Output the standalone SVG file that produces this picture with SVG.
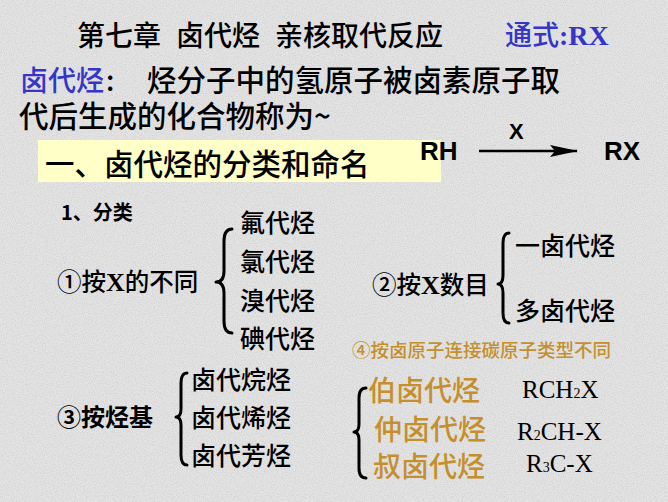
<svg xmlns="http://www.w3.org/2000/svg" width="668" height="502" viewBox="0 0 668 502">
<defs>
<style>
.cjk{font-family:"Noto Sans CJK SC","Liberation Sans",sans-serif;fill:#000;font-weight:500}
.b{font-weight:bold}
.blue{fill:#3535c8}
.gold{fill:#c48f2c}
.ser{font-family:"Liberation Serif","Noto Sans CJK SC",serif;font-weight:normal}
.sans{font-family:"Liberation Sans",sans-serif;font-weight:bold;fill:#000}
.brace{fill:none;stroke:#000;stroke-width:3;stroke-linecap:round;stroke-linejoin:round}
</style>
<filter id="grain" x="0" y="0" width="100%" height="100%">
<feTurbulence type="fractalNoise" baseFrequency="0.9" numOctaves="2" seed="3" result="n"/>
<feColorMatrix type="matrix" values="0 0 0 0 0.55  0 0 0 0 0.55  0 0 0 0 0.55  0 0 0 -2.2 1.35" />
</filter>
<marker id="ah" viewBox="0 0 28 12" refX="27" refY="6" markerWidth="28" markerHeight="12" markerUnits="userSpaceOnUse" orient="auto">
<path d="M0,0 L28,6 L0,12 L5,6 Z" fill="#000"/>
</marker>
</defs>
<rect width="668" height="502" fill="#e4e4e4"/>
<rect width="668" height="502" filter="url(#grain)" opacity="0.55"/>

<g id="title">
<text class="cjk" font-size="28" y="46"><tspan x="77">第七章</tspan><tspan x="176">卤代烃</tspan><tspan x="275">亲核取代反应</tspan></text>
</g>
<g id="formula">
<text class="cjk blue" font-size="27" x="505" y="45">通式<tspan class="ser" font-size="28" style="font-weight:bold">:RX</tspan></text>
</g>
<g id="definition">
<text class="cjk blue" font-size="28" x="20" y="91">卤代烃</text>
<text class="cjk" font-size="28" x="106" y="91">:</text>
<text class="cjk" font-size="29.5" x="147" y="91">烃分子中的氢原子被卤素原子取</text>
<text class="cjk" font-size="29.5" x="19" y="127">代后生成的化合物称为~</text>
</g>
<g id="section">
<rect x="38" y="140" width="403" height="42" fill="#ffffc8"/>
<text class="cjk" font-size="29.5" x="45" y="175">一、卤代烃的分类和命名</text>
</g>
<g id="reaction">
<text class="sans" font-size="26" x="420" y="160">RH</text>
<text class="sans" font-size="22" x="509" y="139">X</text>
<text class="sans" font-size="26" x="604" y="160">RX</text>
</g>
<g id="classify">
<text class="cjk b" font-size="20" x="61" y="220">1、分类</text>
</g>
<g id="byX">
<text class="cjk" font-size="24.5" x="57" y="291">①按<tspan class="ser" font-size="26" style="font-weight:bold">X</tspan>的不同</text>
</g>
<g id="byX-items">
<text class="cjk" font-size="25" x="240" y="232">氟代烃</text>
<text class="cjk" font-size="25" x="240" y="271">氯代烃</text>
<text class="cjk" font-size="25" x="240" y="310">溴代烃</text>
<text class="cjk" font-size="25" x="240" y="348">碘代烃</text>
</g>
<g id="byNum">
<text class="cjk" font-size="24.5" x="372" y="294">②按<tspan class="ser" font-size="26" style="font-weight:bold">X</tspan>数目</text>
</g>
<g id="byNum-items">
<text class="cjk" font-size="25" x="515" y="255">一卤代烃</text>
<text class="cjk" font-size="25" x="515" y="320">多卤代烃</text>
</g>
<g id="byCarbon">
<text class="cjk gold" font-size="18.5" x="352" y="357">④按卤原子连接碳原子类型不同</text>
</g>
<g id="byR">
<text class="cjk b" font-size="24" x="57" y="426">③按烃基</text>
</g>
<g id="byR-items">
<text class="cjk" font-size="25" x="191" y="389">卤代烷烃</text>
<text class="cjk" font-size="25" x="191" y="427">卤代烯烃</text>
<text class="cjk" font-size="25" x="191" y="465">卤代芳烃</text>
</g>
<g id="byCarbon-items">
<text class="cjk gold" font-size="28" x="368" y="401">伯卤代烃</text>
<text class="cjk gold" font-size="28" x="374" y="440">仲卤代烃</text>
<text class="cjk gold" font-size="28" x="373" y="477">叔卤代烃</text>
<text class="ser" font-size="25" x="522" y="398">RCH<tspan font-size="14">2</tspan>X</text>
<text class="ser" font-size="25" x="517" y="440">R<tspan font-size="14">2</tspan>CH-X</text>
<text class="ser" font-size="25" x="526" y="472">R<tspan font-size="14">3</tspan>C-X</text>
</g>
<g id="connectors">
<line x1="479" y1="151" x2="577" y2="151" stroke="#000" stroke-width="2.5" marker-end="url(#ah)"/>
<path class="brace" d="M232,229 Q224,229 224,241 L224,271 Q224,282 216,282 Q224,282 224,293 L224,321 Q224,333 232,333"/>
<path class="brace" d="M509,233 Q503,233 503,243 L503,275 Q503,284 498,284 Q503,284 503,293 L503,313 Q503,323 509,323"/>
<path class="brace" d="M187,373 Q181,373 181,383 L181,409 Q181,417 176,417 Q181,417 181,425 L181,455 Q181,465 187,465"/>
<path class="brace" d="M366,388 Q359,388 359,398 L359,424 Q359,432 354,432 Q359,432 359,440 L359,468 Q359,478 366,478"/>
</g>
</svg>
